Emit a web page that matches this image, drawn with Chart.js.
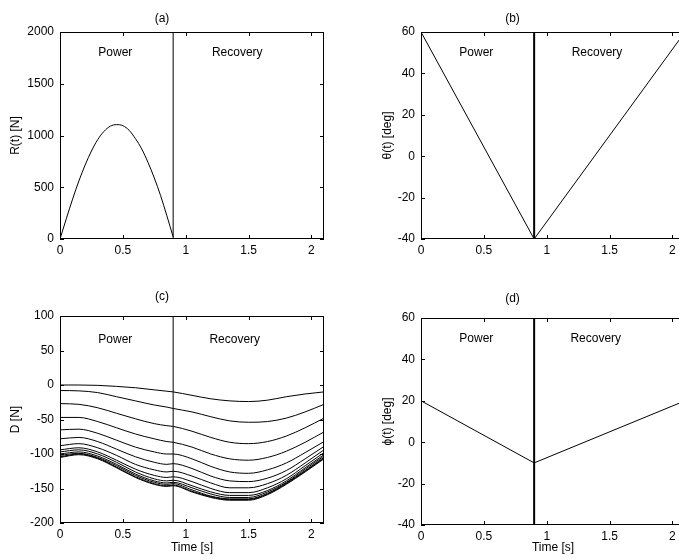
<!DOCTYPE html>
<html>
<head>
<meta charset="utf-8">
<script src="https://cdn.jsdelivr.net/npm/chart.js@4.4.1/dist/chart.umd.min.js"></script>
<style>
  html, body { margin: 0; padding: 0; background: #fff; overflow: hidden; }
  body { width: 679px; height: 559px; position: relative; }
  canvas { position: absolute; }
</style>
</head>
<body>
<canvas id="chart-a" width="340" height="280" style="left:0;top:0"></canvas>
<canvas id="chart-b" width="360" height="280" style="left:340px;top:0"></canvas>
<canvas id="chart-c" width="340" height="279" style="left:0;top:280px"></canvas>
<canvas id="chart-d" width="360" height="279" style="left:340px;top:280px"></canvas>
<script>
// Time axis
const xTicks = [0, 0.5, 1, 1.5, 2];
const tSplit = 0.9;
const phases = ["Power", "Recovery"];

// (a) R(t)
const tR = [0, 0.05, 0.1, 0.15, 0.2, 0.25, 0.3, 0.35, 0.4, 0.45, 0.5, 0.55, 0.6, 0.65, 0.7, 0.75, 0.8, 0.85, 0.9];
const R = [0, 195, 385, 560, 715, 850, 960, 1040, 1090, 1105, 1095, 1050, 970, 870, 740, 590, 420, 225, 20];
const rTicks = [0, 500, 1000, 1500, 2000];

// (b) theta(t)
const tTheta = [0, 0.9, 2.1];
const theta = [60, -40, 60];
const thetaTicks = [-40, -20, 0, 20, 40, 60];

// (c) D, one curve per depth
const tD = [0, 0.15, 0.3, 0.45, 0.6, 0.75, 0.85, 0.9, 1.05, 1.2, 1.35, 1.5, 1.65, 1.8, 1.95, 2.1];
const D1  = [0, 0, -0.5, -2, -4, -7, -9, -10, -15, -20, -23, -24, -22, -17, -13, -10];
const D2  = [-8, -8.5, -11, -17, -23, -29, -32, -34, -39, -46, -52, -54, -53, -48, -39, -28];
const D3  = [-27, -28, -33, -41, -49, -56, -59, -60, -67, -76, -83, -85, -82, -74, -62, -48];
const D4  = [-47, -47, -53, -62, -71, -78, -82, -83, -90, -100, -107, -109, -105, -96, -83, -68];
const D5  = [-65, -64, -70, -80, -90, -97, -100, -100, -107, -118, -126, -128, -123, -113, -98, -82];
const D6  = [-78, -76, -82, -93, -104, -112, -115, -114, -121, -132, -139, -140, -135, -124, -107, -89];
const D7  = [-88, -85, -91, -102, -115, -123, -126, -125, -132, -142, -149, -149, -143, -131, -113, -94];
const D8  = [-94, -91, -97, -109, -122, -131, -134, -133, -140, -150, -156, -156, -149, -136, -117, -98];
const D9  = [-97, -94, -100, -112, -126, -136, -139, -138, -146, -155, -160, -160, -153, -139, -120, -101];
const D10 = [-100, -97, -103, -115, -129, -139, -142, -141, -149, -158, -163, -163, -155, -141, -122, -103];
const D11 = [-102, -99, -105, -117, -131, -141, -144, -143, -152, -161, -165, -165, -157, -142, -124, -105];
const D12 = [-104, -100, -106, -119, -133, -143, -146, -145, -154, -162, -166, -166, -158, -143, -125, -106];
const D13 = [-105, -101, -107, -120, -134, -144, -147, -146, -155, -163, -167, -167, -159, -144, -126, -107];
const dCurves = [D1, D2, D3, D4, D5, D6, D7, D8, D9, D10, D11, D12, D13];
const dTicks = [-200, -150, -100, -50, 0, 50, 100];

// (d) phi(t)
const tPhi = [0, 0.9, 2.1];
const phi = [20, -10, 20];
const phiTicks = [-40, -20, 0, 20, 40, 60];

const FONT = '"Liberation Sans", Arial, Helvetica, sans-serif';

// box round the plot, inward ticks, phase labels
const framePlugin = {
  id: "frame",
  afterDatasetsDraw(chart, args, opts) {
    const { ctx, chartArea: a, scales: { x, y } } = chart;
    ctx.save();
    ctx.strokeStyle = "#000";
    ctx.lineWidth = 1;
    ctx.strokeRect(a.left + 0.5, a.top + 0.5, a.right - a.left - 1, a.bottom - a.top - 1);
    ctx.beginPath();
    x.ticks.forEach(t => {
      const px = Math.round(x.getPixelForValue(t.value)) + 0.5;
      ctx.moveTo(px, a.bottom); ctx.lineTo(px, a.bottom - 4);
      ctx.moveTo(px, a.top); ctx.lineTo(px, a.top + 4);
    });
    y.ticks.forEach(t => {
      const py = Math.round(y.getPixelForValue(t.value)) + 0.5;
      ctx.moveTo(a.left, py); ctx.lineTo(a.left + 4, py);
      ctx.moveTo(a.right, py); ctx.lineTo(a.right - 4, py);
    });
    ctx.stroke();
    ctx.fillStyle = "#000";
    ctx.font = "12px " + FONT;
    ctx.textAlign = "center";
    ctx.textBaseline = "middle";
    (opts.labels || []).forEach(l => {
      ctx.fillText(l.text, x.getPixelForValue(l.x), y.getPixelForValue(l.y));
    });
    ctx.restore();
  }
};

function line(t, v, width, smooth) {
  const ds = {
    data: t.map((tt, i) => ({ x: tt, y: v[i] })),
    borderColor: "#000",
    borderWidth: width,
    pointRadius: 0,
    fill: false,
    tension: 0
  };
  if (smooth) ds.cubicInterpolationMode = "monotone";
  return ds;
}

function makePanel(id, o) {
  const datasets = o.series.map(s => line(s.t, s.y, 1, o.smooth));
  datasets.push(line([tSplit, tSplit], [o.yTicks[0], o.yTicks[o.yTicks.length - 1]], o.splitWidth, false));
  return new Chart(document.getElementById(id), {
    type: "line",
    data: { datasets },
    options: {
      responsive: false,
      animation: false,
      events: [],
      layout: { padding: { left: 0, right: o.padRight, top: 0, bottom: 0 } },
      plugins: {
        legend: { display: false },
        tooltip: { enabled: false },
        title: {
          display: true,
          text: o.title,
          color: "#000",
          font: { family: FONT, size: 12, weight: "normal" },
          padding: { top: o.titleTop, bottom: o.titleBottom }
        },
        frame: { labels: o.labels }
      },
      scales: {
        x: {
          type: "linear",
          min: 0,
          max: 2.1,
          afterBuildTicks: s => { s.ticks = xTicks.map(v => ({ value: v })); },
          afterFit: s => { s.height = o.xHeight; },
          grid: { display: false, drawTicks: false },
          border: { display: false },
          ticks: {
            autoSkip: false, maxRotation: 0, padding: 4, color: "#000",
            font: { family: FONT, size: 12 },
            callback: v => String(v)
          },
          title: {
            display: !!o.xTitle,
            text: o.xTitle || "",
            color: "#000",
            font: { family: FONT, size: 12 },
            padding: { top: 0, bottom: 4 }
          }
        },
        y: {
          type: "linear",
          min: o.yTicks[0],
          max: o.yTicks[o.yTicks.length - 1],
          afterBuildTicks: s => { s.ticks = o.yTicks.map(v => ({ value: v })); },
          afterFit: s => { s.width = o.yWidth; },
          grid: { display: false, drawTicks: false },
          border: { display: false },
          ticks: {
            autoSkip: false, padding: 6, color: "#000",
            font: { family: FONT, size: 12 },
            callback: v => String(v)
          },
          title: {
            display: true,
            text: o.yTitle,
            color: "#000",
            font: { family: FONT, size: 12 },
            padding: { top: o.yTitlePad, bottom: 0 }
          }
        }
      }
    },
    plugins: [framePlugin]
  });
}

makePanel("chart-a", {
  title: "(a)", titleTop: 11, titleBottom: 6.6,
  series: [{ t: tR, y: R }], smooth: true,
  yTicks: rTicks, yTitle: "R(t) [N]", yTitlePad: 8, yWidth: 60,
  xHeight: 41, padRight: 16, splitWidth: 1,
  labels: [{ text: phases[0], x: 0.44, y: 1800 }, { text: phases[1], x: 1.41, y: 1800 }]
});

makePanel("chart-b", {
  title: "(b)", titleTop: 11, titleBottom: 6.6,
  series: [{ t: tTheta, y: theta }], smooth: false,
  yTicks: thetaTicks, yTitle: "θ(t) [deg]", yTitlePad: 40, yWidth: 81,
  xHeight: 41, padRight: 15, splitWidth: 2,
  labels: [{ text: phases[0], x: 0.44, y: 50 }, { text: phases[1], x: 1.4, y: 50 }]
});

makePanel("chart-c", {
  title: "(c)", titleTop: 9, titleBottom: 12.6,
  series: dCurves.map(d => ({ t: tD, y: d })), smooth: true,
  yTicks: dTicks, yTitle: "D [N]", yTitlePad: 8, yWidth: 60,
  xHeight: 36, padRight: 16, splitWidth: 1, xTitle: "Time [s]",
  labels: [{ text: phases[0], x: 0.44, y: 65 }, { text: phases[1], x: 1.39, y: 65 }]
});

makePanel("chart-d", {
  title: "(d)", titleTop: 11, titleBottom: 12.6,
  series: [{ t: tPhi, y: phi }], smooth: false,
  yTicks: phiTicks, yTitle: "ϕ(t) [deg]", yTitlePad: 40, yWidth: 81,
  xHeight: 34, padRight: 15, splitWidth: 2, xTitle: "Time [s]",
  labels: [{ text: phases[0], x: 0.44, y: 50 }, { text: phases[1], x: 1.39, y: 50 }]
});
</script>
</body>
</html>
